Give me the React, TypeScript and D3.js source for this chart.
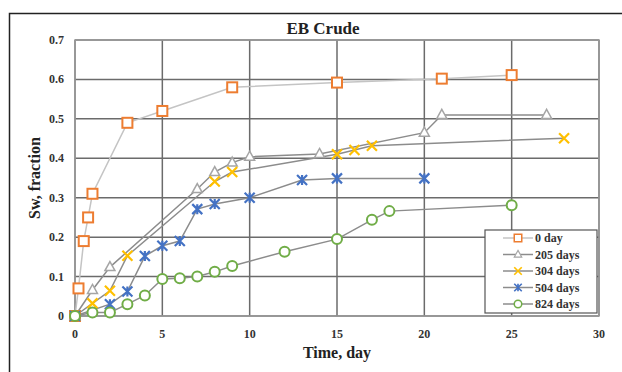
import React, { useEffect, useRef } from 'react';
import * as d3 from 'd3';

// series data: [time, Sw]
const day0 = [[0, 0], [0.2, 0.07], [0.5, 0.19], [0.75, 0.25], [1, 0.31], [3, 0.49], [5, 0.52], [9, 0.58], [15, 0.592], [21, 0.602], [25, 0.611]];
const day205 = [[0, 0], [1, 0.066], [2, 0.124], [7, 0.322], [8, 0.365], [9, 0.389], [10, 0.404], [14, 0.411], [20, 0.465], [21, 0.51], [27, 0.51]];
const day304 = [[0, 0], [1, 0.032], [2, 0.064], [3, 0.153], [8, 0.341], [9, 0.365], [15, 0.41], [16, 0.421], [17, 0.432], [28, 0.451]];
const day504 = [[0, 0], [2, 0.03], [3, 0.062], [4, 0.152], [5, 0.178], [6, 0.19], [7, 0.271], [8, 0.284], [10, 0.3], [13, 0.345], [15, 0.349], [20, 0.349]];
const day824 = [[0, 0], [1, 0.009], [2, 0.009], [3, 0.03], [4, 0.052], [5, 0.094], [6, 0.096], [7, 0.1], [8, 0.112], [9, 0.127], [12, 0.163], [15, 0.195], [17, 0.244], [18, 0.266], [25, 0.281]];

const seriesNames = ['0 day', '205 days', '304 days', '504 days', '824 days'];
const xTicks = [0, 5, 10, 15, 20, 25, 30];
const yTicks = [0, 0.1, 0.2, 0.3, 0.4, 0.5, 0.6, 0.7];

const series = [
  { name: seriesNames[0], data: day0, color: '#ED7D31', marker: 'square', line: '#c4c4c4' },
  { name: seriesNames[1], data: day205, color: '#A5A5A5', marker: 'triangle', line: '#8c8c8c' },
  { name: seriesNames[2], data: day304, color: '#FFC000', marker: 'x', line: '#8c8c8c' },
  { name: seriesNames[3], data: day504, color: '#4472C4', marker: 'star', line: '#8c8c8c' },
  { name: seriesNames[4], data: day824, color: '#70AD47', marker: 'circle', line: '#8c8c8c' },
];

const font = '"Liberation Serif", "Times New Roman", serif';

function drawMarker(g, type, color, x, y) {
  if (type === 'square') {
    g.append('rect').attr('x', x - 5).attr('y', y - 5).attr('width', 10).attr('height', 10)
      .attr('fill', '#fff').attr('stroke', color).attr('stroke-width', 2);
  } else if (type === 'triangle') {
    g.append('path').attr('d', `M${x},${y - 5.5}L${x + 5},${y + 3.5}L${x - 5},${y + 3.5}Z`)
      .attr('fill', '#fff').attr('stroke', color).attr('stroke-width', 1.5);
  } else if (type === 'x') {
    g.append('path').attr('d', `M${x - 5},${y - 5}L${x + 5},${y + 5}M${x - 5},${y + 5}L${x + 5},${y - 5}`)
      .attr('stroke', color).attr('stroke-width', 2.2);
  } else if (type === 'star') {
    g.append('path').attr('d', `M${x - 5},${y - 5}L${x + 5},${y + 5}M${x - 5},${y + 5}L${x + 5},${y - 5}M${x},${y - 5}L${x},${y + 5}`)
      .attr('stroke', color).attr('stroke-width', 2.2);
  } else {
    g.append('circle').attr('cx', x).attr('cy', y).attr('r', 5)
      .attr('fill', '#fff').attr('stroke', color).attr('stroke-width', 2);
  }
}

const App = () => {
  const ref = useRef(null);

  useEffect(() => {
    const svg = d3.select(ref.current);
    svg.selectAll('*').remove();

    const x = d3.scaleLinear().domain([0, 30]).range([75, 599]);
    const y = d3.scaleLinear().domain([0, 0.7]).range([316, 40]);

    // outer frame (left + top)
    svg.append('path').attr('d', 'M9.5,372V13.5H622').attr('fill', 'none')
      .attr('stroke', '#222').attr('stroke-width', 1.5);

    // grid
    const grid = svg.append('g');
    xTicks.forEach(t => {
      grid.append('line').attr('x1', x(t)).attr('x2', x(t)).attr('y1', y(0)).attr('y2', y(0.7))
        .attr('stroke', '#6b6b6b').attr('stroke-width', 1.5);
    });
    yTicks.forEach(t => {
      grid.append('line').attr('x1', x(0)).attr('x2', x(30)).attr('y1', y(t)).attr('y2', y(t))
        .attr('stroke', '#6b6b6b').attr('stroke-width', 1.5);
    });
    svg.append('rect').attr('x', x(0)).attr('y', y(0.7)).attr('width', x(30) - x(0)).attr('height', y(0) - y(0.7))
      .attr('fill', 'none').attr('stroke', '#9a9a9a').attr('stroke-width', 1.5);

    // tick labels
    xTicks.forEach(t => {
      svg.append('text').attr('x', x(t)).attr('y', 338).attr('text-anchor', 'middle')
        .attr('font-family', font).attr('font-weight', 'bold').attr('font-size', 12).attr('fill', '#333').text(t);
    });
    yTicks.forEach(t => {
      svg.append('text').attr('x', 64).attr('y', y(t) + 4).attr('text-anchor', 'end')
        .attr('font-family', font).attr('font-weight', 'bold').attr('font-size', 12).attr('fill', '#333').text(t);
    });

    // titles
    svg.append('text').attr('x', 323).attr('y', 34).attr('text-anchor', 'middle')
      .attr('font-family', font).attr('font-weight', 'bold').attr('font-size', 17).attr('fill', '#222').text('EB Crude');
    svg.append('text').attr('x', 337).attr('y', 358).attr('text-anchor', 'middle')
      .attr('font-family', font).attr('font-weight', 'bold').attr('font-size', 16).attr('fill', '#222').text('Time, day');
    svg.append('text').attr('transform', 'translate(40,178) rotate(-90)').attr('text-anchor', 'middle')
      .attr('font-family', font).attr('font-weight', 'bold').attr('font-size', 16).attr('fill', '#222').text('Sw, fraction');

    // series
    const line = d3.line().x(d => x(d[0])).y(d => y(d[1]));
    series.forEach(s => {
      svg.append('path').datum(s.data).attr('d', line).attr('fill', 'none')
        .attr('stroke', s.line).attr('stroke-width', 1.5);
    });
    series.forEach(s => {
      const g = svg.append('g');
      s.data.forEach(d => drawMarker(g, s.marker, s.color, x(d[0]), y(d[1])));
    });

    // legend
    const lg = svg.append('g');
    lg.append('rect').attr('x', 485).attr('y', 230).attr('width', 112).attr('height', 83)
      .attr('fill', '#fff').attr('stroke', '#555').attr('stroke-width', 1.2);
    series.forEach((s, i) => {
      const ly = 238 + i * 16.5;
      lg.append('line').attr('x1', 503).attr('x2', 533).attr('y1', ly).attr('y2', ly)
        .attr('stroke', s.line).attr('stroke-width', 1.5);
      const mg = lg.append('g').attr('transform', `translate(518,${ly}) scale(0.75) translate(-518,${-ly})`);
      drawMarker(mg, s.marker, s.color, 518, ly);
      lg.append('text').attr('x', 535).attr('y', ly + 4).attr('font-family', font).attr('font-weight', 'bold')
        .attr('font-size', 12).attr('fill', '#333').text(s.name);
    });
  }, []);

  return <svg ref={ref} width={622} height={372} style={{ position: 'absolute', left: 0, top: 0 }} />;
};

export default App;
